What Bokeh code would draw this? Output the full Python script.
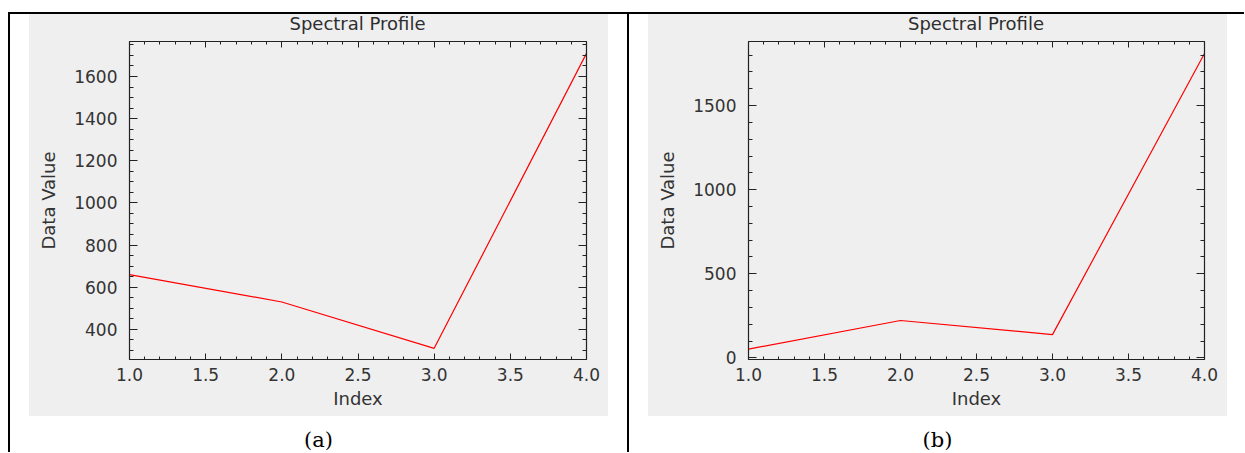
from bokeh.plotting import figure
from bokeh.models import (Range1d, LinearAxis, SingleIntervalTicker, PrintfTickFormatter,
                          CustomJSTickFormatter, Spacer, Div)
from bokeh.layouts import row, column
from bokeh.embed import file_html
from bokeh.resources import INLINE

# ---------------- data ----------------
index = [1, 2, 3, 4]
values_a = [660, 530, 310, 1710]
values_b = [52, 222, 138, 1810]
title_text = "Spectral Profile"
x_label = "Index"
y_label = "Data Value"
caption_a = "(a)"
caption_b = "(b)"

GRAY = "#efefef"
FONT = "DejaVu Sans"
AXIS_COLOR = "#222222"
TEXT_COLOR = "#333333"
PANEL_W = 579
TITLE_H = 21


def style_axis(ax, is_x, show_labels):
    ax.axis_line_color = AXIS_COLOR
    ax.axis_line_width = 1.2
    ax.major_tick_line_color = AXIS_COLOR
    ax.minor_tick_line_color = AXIS_COLOR
    ax.major_tick_out = 0
    ax.minor_tick_out = 0
    if is_x:
        ax.major_tick_in = 6
        ax.minor_tick_in = 3
    else:
        ax.major_tick_in = 8
        ax.minor_tick_in = 4
    ax.major_label_text_font = FONT
    ax.major_label_text_color = TEXT_COLOR
    ax.major_label_text_font_size = "17px"
    if not show_labels:
        ax.formatter = CustomJSTickFormatter(code="return ''")
        ax.major_label_standoff = 0
    ax.axis_label_text_font = FONT
    ax.axis_label_text_font_style = "normal"
    ax.axis_label_text_font_size = "18px"
    ax.axis_label_text_color = TEXT_COLOR


def make_panel(values, y_start, y_end, y_interval, y_minor, frame_w):
    p = figure(width=PANEL_W, height=402 - TITLE_H,
               min_border_left=100, min_border_right=PANEL_W - 100 - frame_w,
               min_border_top=6, min_border_bottom=57,
               x_range=Range1d(1, 4), y_range=Range1d(y_start, y_end),
               x_axis_location=None, y_axis_location=None,
               output_backend="svg", toolbar_location=None,
               background_fill_color=GRAY, border_fill_color=GRAY,
               outline_line_color=None,
               styles={"background-color": GRAY})
    p.grid.visible = False

    xt = SingleIntervalTicker(interval=0.5, num_minor_ticks=5)
    yt = SingleIntervalTicker(interval=y_interval, num_minor_ticks=y_minor)

    below = LinearAxis(ticker=xt, formatter=PrintfTickFormatter(format="%.1f"), axis_label=x_label)
    style_axis(below, True, True)
    below.major_label_standoff = 8
    below.axis_label_standoff = 4
    p.add_layout(below, "below")

    left = LinearAxis(ticker=yt, axis_label=y_label)
    style_axis(left, False, True)
    left.major_label_standoff = 12
    left.axis_label_standoff = 12
    p.add_layout(left, "left")

    above = LinearAxis(ticker=xt)
    style_axis(above, True, False)
    p.add_layout(above, "above")

    right = LinearAxis(ticker=yt)
    style_axis(right, False, False)
    p.add_layout(right, "right")

    p.line(index, values, line_color="#ff0000", line_width=1.2)

    title = Div(text=('<div style="margin-left:100px;width:%dpx;text-align:center;'
                      'font-family:\'DejaVu Sans\';font-size:18px;line-height:20px;'
                      'color:#2e2e2e">%s</div>')
                     % (frame_w, title_text),
                width=PANEL_W, height=TITLE_H, margin=0,
                styles={"background-color": GRAY})
    return column(title, p, spacing=0, styles={"background-color": GRAY})


def rule(w, h):
    return Spacer(width=w, height=h, margin=0, styles={"background-color": "black"})


def gap(w, h):
    return Spacer(width=w, height=h, margin=0)


def caption(txt):
    html = ('<div style="width:579px;text-align:center;font-family:\'DejaVu Serif\';'
            'font-size:21px;line-height:25px;padding-top:12px;color:#000">%s</div>' % txt)
    return Div(text=html, width=PANEL_W, height=36, margin=0)


pa = make_panel(values_a, 257, 1766, 200, 4, 457)
pb = make_panel(values_b, -10, 1881, 500, 5, 456)

H = 438
col_a = column(pa, caption(caption_a), spacing=0)
col_b = column(pb, caption(caption_b), spacing=0)

content = row(gap(8, H), rule(2, H), gap(19, H), col_a, gap(19, H), rule(2, H),
              gap(19, H), col_b, gap(17, H), spacing=0)
top_line = row(gap(8, 2), rule(1236, 2), spacing=0)
page = column(gap(1244, 12), top_line, content, spacing=0)

open("out.html", "w").write(file_html(page, INLINE))
